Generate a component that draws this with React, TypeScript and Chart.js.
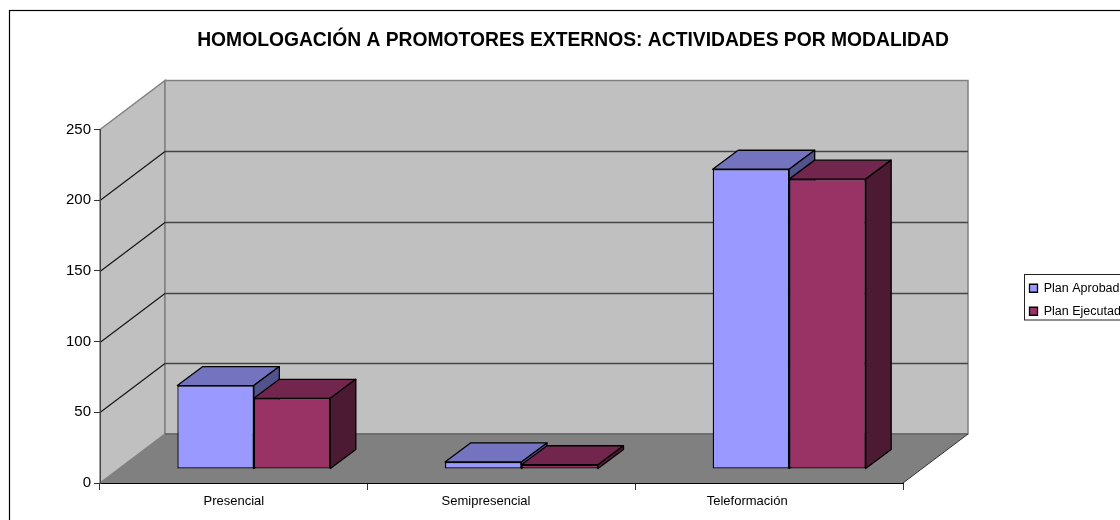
import React, { useEffect, useRef } from "react";
import { Chart, registerables } from "chart.js";

Chart.register(...registerables);

const TITLE = "HOMOLOGACIÓN A PROMOTORES EXTERNOS: ACTIVIDADES POR MODALIDAD";
const categories = ["Presencial", "Semipresencial", "Teleformación"];
const planAprobado = [59, 5, 212];
const planEjecutado = [50, 3, 205];
const yMax = 250;
const yStep = 50;

const FONT = "'Liberation Sans', Arial, sans-serif";
const WALL_DX = 65;
const WALL_DY = 49;
const BAR_OFFSET_X = 20;
const BAR_OFFSET_Y = 14;
const BAR_DX = 25.5;
const BAR_DY = 19;
const LABEL_SHIFT = [0, -15.5, -22];

const shades = [
  { front: "#9999FF", top: "#7373BF", side: "#53538C" },
  { front: "#993366", top: "#73264D", side: "#4D1A33" },
];

function poly(ctx: CanvasRenderingContext2D, pts: number[][], fill: string, stroke?: string, lw = 1.3) {
  ctx.beginPath();
  pts.forEach((p, i) => (i ? ctx.lineTo(p[0], p[1]) : ctx.moveTo(p[0], p[1])));
  ctx.closePath();
  ctx.fillStyle = fill;
  ctx.fill();
  if (stroke) {
    ctx.strokeStyle = stroke;
    ctx.lineWidth = lw;
    ctx.stroke();
  }
}

function seg(ctx: CanvasRenderingContext2D, x0: number, y0: number, x1: number, y1: number, color: string, lw: number) {
  ctx.beginPath();
  ctx.moveTo(x0, y0);
  ctx.lineTo(x1, y1);
  ctx.strokeStyle = color;
  ctx.lineWidth = lw;
  ctx.stroke();
}

const box3d = {
  id: "box3d",
  beforeDraw(chart: any) {
    const { ctx, chartArea: a, scales } = chart;
    const { left: l, right: r, top: t, bottom: b } = a;
    scales.x.getLabelItems(a).forEach((it: any, i: number) => {
      if (!it._shifted) {
        it.options.translation[0] += LABEL_SHIFT[i] || 0;
        it._shifted = true;
      }
    });
    ctx.save();
    ctx.fillStyle = "#fff";
    ctx.fillRect(0, 0, chart.width, chart.height);
    ctx.strokeStyle = "#000";
    ctx.lineWidth = 1.2;
    ctx.strokeRect(9.5, 10.5, chart.width + 20, chart.height + 20);
    // legend frame
    ctx.lineWidth = 1;
    ctx.strokeStyle = "#222";
    ctx.strokeRect(1024.5, 274.5, chart.width, 45.5);
    // walls and floor
    const g = "#808080";
    poly(ctx, [[l, b], [l + WALL_DX, b - WALL_DY], [l + WALL_DX, t - WALL_DY], [l, t]], "#C0C0C0", g, 1.5);
    poly(ctx, [[l + WALL_DX, t - WALL_DY], [r + WALL_DX, t - WALL_DY], [r + WALL_DX, b - WALL_DY], [l + WALL_DX, b - WALL_DY]], "#C0C0C0", g, 1.5);
    poly(ctx, [[l, b], [r, b], [r + WALL_DX, b - WALL_DY], [l + WALL_DX, b - WALL_DY]], "#808080");
    seg(ctx, l + WALL_DX, b - WALL_DY, r + WALL_DX, b - WALL_DY, "#666", 1.5);
    seg(ctx, r, b, r + WALL_DX, b - WALL_DY, "#333", 1);
    // gridlines on the walls
    scales.y.ticks.forEach((tk: any) => {
      if (tk.value === 0 || tk.value === yMax) return;
      const y = Math.round(scales.y.getPixelForValue(tk.value)) + 0.5;
      seg(ctx, l, y, l + WALL_DX, y - WALL_DY, "#111", 1.1);
      seg(ctx, l + WALL_DX, y - WALL_DY, r + WALL_DX, y - WALL_DY, "#444", 1.3);
    });
    ctx.restore();
  },
  beforeDatasetsDraw(chart: any) {
    const { ctx } = chart;
    ctx.save();
    ctx.translate(BAR_OFFSET_X, BAR_OFFSET_Y * -1);
    ctx.lineJoin = "round";
    chart.data.datasets.forEach((_: any, di: number) => {
      const meta = chart.getDatasetMeta(di);
      const c = shades[di];
      meta.data.forEach((bar: any) => {
        const x0 = bar.x - bar.width / 2;
        const x1 = bar.x + bar.width / 2;
        const yT = bar.y;
        const yB = bar.base;
        poly(ctx, [[x0, yT], [x0 + BAR_DX, yT - BAR_DY], [x1 + BAR_DX, yT - BAR_DY], [x1, yT]], c.top, "#000");
        poly(ctx, [[x1, yT], [x1 + BAR_DX, yT - BAR_DY], [x1 + BAR_DX, yB - BAR_DY], [x1, yB]], c.side, "#000");
      });
    });
  },
  afterDatasetsDraw(chart: any) {
    chart.ctx.restore();
  },
  afterLayout(chart: any) {
    const t = chart.titleBlock;
    if (t) {
      t.left = 173;
      t.right = 973;
      t.top = 31;
      t.bottom = 51;
    }
    const lg = chart.legend;
    if (lg) {
      lg.left = 1019;
      lg.right = 1120;
      lg.top = 271.5;
      lg.bottom = 330;
    }
  },
};

export default function App() {
  const ref = useRef<HTMLCanvasElement>(null);
  useEffect(() => {
    const chart = new Chart(ref.current as HTMLCanvasElement, {
      type: "bar",
      data: {
        labels: categories,
        datasets: [
          { label: "Plan Aprobado", data: planAprobado, backgroundColor: shades[0].front, borderColor: "#000", borderWidth: 1.3, borderSkipped: false, clip: false } as any,
          { label: "Plan Ejecutado", data: planEjecutado, backgroundColor: shades[1].front, borderColor: "#000", borderWidth: 1.3, borderSkipped: false, clip: false } as any,
        ],
      },
      options: {
        animation: false,
        responsive: false,
        events: [],
        layout: { padding: { left: 0, right: 217, top: 109.5, bottom: 0 } },
        datasets: { bar: { categoryPercentage: 0.5716, barPercentage: 1 } },
        plugins: {
          tooltip: { enabled: false },
          title: {
            display: true,
            text: TITLE,
            color: "#000",
            padding: 0,
            font: { family: FONT, size: 19.3, weight: "bold", lineHeight: "20px" },
          },
          legend: {
            display: true,
            position: "chartArea",
            align: "start",
            labels: {
              boxWidth: 8,
              boxHeight: 8,
              padding: 10.5,
              color: "#000",
              font: { family: FONT, size: 12.5 },
              sort: (a: any, b: any) => a.datasetIndex - b.datasetIndex,
            },
          },
        },
        scales: {
          x: {
            grid: { drawOnChartArea: false, drawTicks: true, tickLength: 7, color: "#333", offset: true },
            border: { display: true, color: "#000", width: 1 },
            ticks: { color: "#000", padding: 4, maxRotation: 0, font: { family: FONT, size: 13 } },
            afterFit: (s: any) => { s.height = 37; },
          },
          y: {
            min: 0,
            max: yMax,
            grid: { drawOnChartArea: false, drawTicks: true, tickLength: 6, color: "#333" },
            border: { display: true, color: "#444", width: 1 },
            ticks: { stepSize: yStep, color: "#000", padding: 3, font: { family: FONT, size: 15 } },
            afterFit: (s: any) => { s.width = 100; },
          },
        },
      },
      plugins: [box3d],
    } as any);
    return () => chart.destroy();
  }, []);
  return (
    <div style={{ position: "absolute", left: 0, top: 0, width: 1120, height: 520, overflow: "hidden", background: "#fff" }}>
      <canvas ref={ref} width={1120} height={520} style={{ display: "block" }} />
    </div>
  );
}
